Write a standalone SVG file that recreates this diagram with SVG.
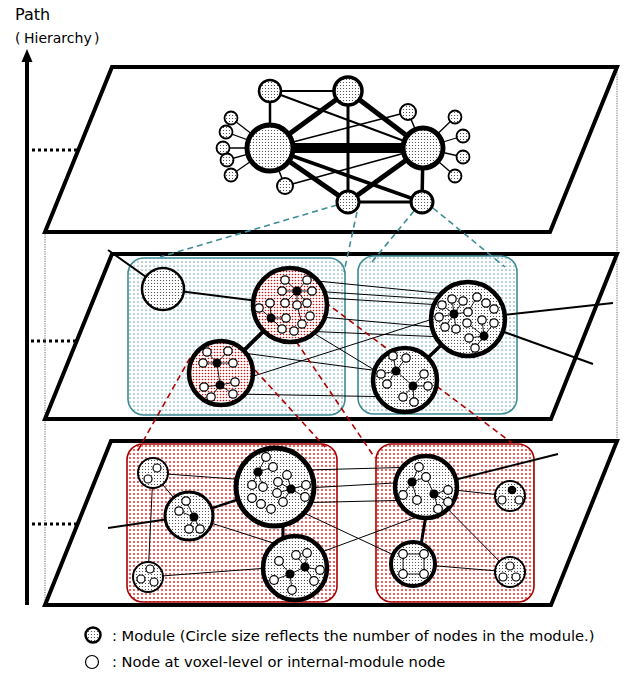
<svg xmlns="http://www.w3.org/2000/svg" width="633" height="680" viewBox="0 0 633 680">
  <defs>
    <!-- dotted fills -->
    <pattern id="gd" width="3" height="3" patternUnits="userSpaceOnUse">
      <rect width="3" height="3" fill="#fff"/>
      <circle cx="1.5" cy="1.5" r="0.6" fill="#3a3a3a"/>
    </pattern>
    <pattern id="rd" width="3" height="3" patternUnits="userSpaceOnUse">
      <rect width="3" height="3" fill="#fff"/>
      <circle cx="1.5" cy="1.5" r="0.8" fill="#d01010"/>
    </pattern>
    <pattern id="rbox" width="4" height="4" patternUnits="userSpaceOnUse">
      <rect width="4" height="4" fill="#fff"/>
      <circle cx="2" cy="2" r="0.9" fill="#e01818"/>
    </pattern>
    <pattern id="tbox" width="4" height="4" patternUnits="userSpaceOnUse">
      <rect width="4" height="4" fill="#fff"/>
      <circle cx="2" cy="2" r="0.85" fill="#78adb5"/>
    </pattern>
    <style>
      .plane{fill:#fff;stroke:#000;stroke-width:4;stroke-linejoin:miter}
      .guide{fill:none;stroke:#666;stroke-width:1;stroke-dasharray:1.2 1.2}
      .tick{fill:none;stroke:#000;stroke-width:3;stroke-dasharray:3 3}
      .tbx{fill:url(#tbox);stroke:#3e8c96;stroke-width:1.6}
      .rbx{fill:url(#rbox);stroke:#a80000;stroke-width:1.6}
      .mod{fill:url(#gd);stroke:#000}
      .rmod{fill:url(#rd);stroke:#000}
      .n{fill:#fff;stroke:#000;stroke-width:1.2}
      .h{fill:#000}
      .ie{fill:none;stroke:#000;stroke-width:0.9}
      .e{fill:none;stroke:#000;stroke-linecap:butt}
      .tdash{fill:none;stroke:#3e8c96;stroke-width:1.6;stroke-dasharray:6 4}
      .rdash{fill:none;stroke:#b00000;stroke-width:1.6;stroke-dasharray:6 4}
      .lbl{font-family:"DejaVu Sans","Noto Sans CJK JP",sans-serif;fill:#000}
    </style>
  </defs>

  <!-- vertical hierarchy axis -->
  <g id="axis">
    <line x1="27" y1="58" x2="27" y2="605" stroke="#000" stroke-width="4"/>
    <polygon points="27,49 21.5,62 32.5,62" fill="#000"/>
    <text class="lbl" x="15" y="20" font-size="16">Path</text>
    <text class="lbl" y="43" font-size="14"><tspan x="15">(</tspan><tspan x="24">Hierarchy</tspan><tspan x="94">)</tspan></text>
    <line class="tick" x1="32" y1="150" x2="77" y2="150"/>
    <line class="tick" x1="31" y1="341" x2="76" y2="341"/>
    <line class="tick" x1="32" y1="524" x2="76" y2="524"/>
  </g>

  <!-- thin guides joining the plane corners -->
  <line class="guide" x1="45" y1="232" x2="45" y2="605"/>
  <line class="guide" x1="617" y1="67" x2="617" y2="441"/>

  <!-- the three layers -->
  <g id="plane-top"><path class="plane" d="M112,67 L617,67 L550,232 L45,232 Z"/></g>
  <g id="plane-mid"><path class="plane" d="M112,254 L617,254 L551,419 L45,419 Z"/></g>
  <g id="plane-bot"><path class="plane" d="M111,441 L617,441 L551,605 L45,605 Z"/></g>

  <!-- community boxes -->
  <g id="box-mid-left"><rect class="tbx" x="128" y="258" width="217" height="157" rx="16"/></g>
  <g id="box-mid-right"><rect class="tbx" x="358" y="256" width="159" height="158" rx="16"/></g>
  <g id="box-bot-left"><rect class="rbx" x="127" y="444" width="210" height="158" rx="16"/></g>
  <g id="box-bot-right"><rect class="rbx" x="376" y="444" width="158" height="158" rx="16"/></g>

  <g id="connectors">
    <!-- top layer -->
    <line class="e" x1="270" y1="148" x2="423" y2="148" stroke-width="10"/>
    <line class="e" x1="348" y1="91" x2="270" y2="148" stroke-width="5"/>
    <line class="e" x1="348" y1="91" x2="423" y2="148" stroke-width="5"/>
    <line class="e" x1="348" y1="91" x2="348" y2="202" stroke-width="3"/>
    <line class="e" x1="270" y1="148" x2="348" y2="202" stroke-width="5"/>
    <line class="e" x1="423" y1="148" x2="348" y2="202" stroke-width="5"/>
    <line class="e" x1="270" y1="148" x2="422" y2="202" stroke-width="3.5"/>
    <line class="e" x1="423" y1="148" x2="422" y2="202" stroke-width="3.5"/>
    <line class="e" x1="348" y1="202" x2="422" y2="202" stroke-width="3"/>
    <line class="e" x1="270" y1="91" x2="348" y2="91" stroke-width="2"/>
    <line class="e" x1="270" y1="91" x2="270" y2="148" stroke-width="2.5"/>
    <line class="e" x1="270" y1="91" x2="423" y2="148" stroke-width="2"/>
    <line class="e" x1="408" y1="112" x2="270" y2="148" stroke-width="1.8"/>
    <line class="e" x1="408" y1="112" x2="423" y2="148" stroke-width="1.5"/>
    <line class="e" x1="285" y1="186" x2="423" y2="148" stroke-width="1.8"/>
    <line class="e" x1="285" y1="186" x2="270" y2="148" stroke-width="1.5"/>
    <g stroke-width="1.3">
      <line class="e" x1="231" y1="118" x2="270" y2="148"/>
      <line class="e" x1="226" y1="132" x2="270" y2="148"/>
      <line class="e" x1="223" y1="148" x2="270" y2="148"/>
      <line class="e" x1="227" y1="160" x2="270" y2="148"/>
      <line class="e" x1="231" y1="175" x2="270" y2="148"/>
      <line class="e" x1="455" y1="117" x2="423" y2="148"/>
      <line class="e" x1="463" y1="136" x2="423" y2="148"/>
      <line class="e" x1="463" y1="157" x2="423" y2="148"/>
      <line class="e" x1="455" y1="176" x2="423" y2="148"/>
    </g>

    <!-- links from top-layer modules down to their sub-networks -->
    <line class="tdash" x1="337" y1="205" x2="160" y2="257"/>
    <line class="tdash" x1="357" y1="212" x2="344" y2="272"/>
    <line class="tdash" x1="414" y1="211" x2="372" y2="262"/>
    <line class="tdash" x1="433" y1="208" x2="505" y2="267"/>

    <!-- middle layer -->
    <line class="e" x1="108" y1="250" x2="163" y2="289" stroke-width="2"/>
    <line class="e" x1="163" y1="289" x2="290" y2="305" stroke-width="2"/>
    <line class="e" x1="290" y1="305" x2="221" y2="373" stroke-width="4"/>
    <line class="e" x1="468" y1="319" x2="405" y2="380" stroke-width="3.5"/>
    <line class="e" x1="468" y1="319" x2="613" y2="303" stroke-width="2"/>
    <line class="e" x1="468" y1="319" x2="593" y2="364" stroke-width="2"/>
    <g stroke-width="1">
      <line class="e" x1="307" y1="280" x2="477" y2="297"/>
      <line class="e" x1="312" y1="291" x2="463" y2="301"/>
      <line class="e" x1="310" y1="297" x2="442" y2="305"/>
      <line class="e" x1="310" y1="316" x2="456" y2="329"/>
      <line class="e" x1="302" y1="331" x2="469" y2="338"/>
      <line class="e" x1="305" y1="328" x2="381" y2="374"/>
      <line class="e" x1="228" y1="351" x2="387" y2="372"/>
      <line class="e" x1="235" y1="382" x2="439" y2="317"/>
      <line class="e" x1="233" y1="394" x2="403" y2="397"/>
    </g>

    <!-- links from middle-layer modules down to their sub-networks -->
    <line class="rdash" x1="190" y1="358" x2="137" y2="452"/>
    <line class="rdash" x1="255" y1="370" x2="325" y2="447"/>
    <line class="rdash" x1="285" y1="325" x2="375" y2="458"/>
    <line class="rdash" x1="325" y1="302" x2="512" y2="443"/>

    <!-- bottom layer -->
    <line class="e" x1="108" y1="528" x2="189" y2="516" stroke-width="2"/>
    <line class="e" x1="189" y1="516" x2="275" y2="487" stroke-width="2.5"/>
    <line class="e" x1="283" y1="520" x2="283" y2="540" stroke-width="3"/>
    <line class="e" x1="426" y1="515" x2="421" y2="545" stroke-width="3"/>
    <line class="e" x1="426" y1="487" x2="558" y2="454" stroke-width="2"/>
    <g stroke-width="1">
      <line class="e" x1="153" y1="473" x2="275" y2="482"/>
      <line class="e" x1="153" y1="473" x2="189" y2="516"/>
      <line class="e" x1="153" y1="473" x2="148" y2="577"/>
      <line class="e" x1="148" y1="577" x2="295" y2="566"/>
      <line class="e" x1="189" y1="516" x2="295" y2="550"/>
      <line class="e" x1="307" y1="470" x2="419" y2="467"/>
      <line class="e" x1="306" y1="488" x2="412" y2="482"/>
      <line class="e" x1="287" y1="503" x2="417" y2="500"/>
      <line class="e" x1="287" y1="505" x2="413" y2="564"/>
      <line class="e" x1="300" y1="560" x2="438" y2="509"/>
      <line class="e" x1="426" y1="487" x2="510" y2="496"/>
      <line class="e" x1="426" y1="487" x2="510" y2="572"/>
      <line class="e" x1="413" y1="564" x2="510" y2="572"/>
    </g>
  </g>

  <!-- top layer modules -->
  <g id="t-left"><circle class="mod" cx="270" cy="148" r="23" stroke-width="5"/></g>
  <g id="t-right"><circle class="mod" cx="423" cy="148" r="20" stroke-width="5"/></g>
  <g id="t-top"><circle class="mod" cx="348" cy="91" r="14" stroke-width="3.5"/></g>
  <g id="t-topleft"><circle class="mod" cx="270" cy="91" r="11" stroke-width="2.5"/></g>
  <g id="t-botc"><circle class="mod" cx="348" cy="202" r="11" stroke-width="3"/></g>
  <g id="t-botr"><circle class="mod" cx="422" cy="202" r="11" stroke-width="3"/></g>
  <g id="t-lb"><circle class="mod" cx="285" cy="186" r="8" stroke-width="2"/></g>
  <g id="t-ur"><circle class="mod" cx="408" cy="112" r="8" stroke-width="2"/></g>
  <g id="t-sat-l1"><circle class="mod" cx="231" cy="118" r="6.5" stroke-width="1.8"/></g>
  <g id="t-sat-l2"><circle class="mod" cx="226" cy="132" r="6.5" stroke-width="1.8"/></g>
  <g id="t-sat-l3"><circle class="mod" cx="223" cy="148" r="6.5" stroke-width="1.8"/></g>
  <g id="t-sat-l4"><circle class="mod" cx="227" cy="160" r="6.5" stroke-width="1.8"/></g>
  <g id="t-sat-l5"><circle class="mod" cx="231" cy="175" r="6.5" stroke-width="1.8"/></g>
  <g id="t-sat-r1"><circle class="mod" cx="455" cy="117" r="6.5" stroke-width="1.8"/></g>
  <g id="t-sat-r2"><circle class="mod" cx="463" cy="136" r="6.5" stroke-width="1.8"/></g>
  <g id="t-sat-r3"><circle class="mod" cx="463" cy="157" r="6.5" stroke-width="1.8"/></g>
  <g id="t-sat-r4"><circle class="mod" cx="455" cy="176" r="6.5" stroke-width="1.8"/></g>

  <!-- middle layer modules -->
  <g id="m-gray-small"><circle class="mod" cx="163" cy="289" r="21" stroke-width="2.5"/></g>

  <g id="m-red-big">
    <circle class="rmod" cx="290" cy="305" r="37" stroke-width="4.5"/>
    <path class="ie" d="M297,291 L285,280 M297,291 L307,280 M297,291 L282,291 M297,291 L312,291 M297,291 L297,305 M297,291 L307,303 M297,291 L285,303 M271,318 L259,308 M271,318 L270,303 M271,318 L286,318 M271,318 L282,329 M297,305 L302,324"/>
    <circle class="n" cx="285" cy="280" r="4.2"/><circle class="n" cx="307" cy="280" r="4.2"/>
    <circle class="n" cx="282" cy="291" r="4.2"/><circle class="n" cx="312" cy="291" r="4.2"/>
    <circle class="n" cx="270" cy="303" r="4.2"/><circle class="n" cx="285" cy="303" r="4.2"/>
    <circle class="n" cx="297" cy="305" r="4.2"/><circle class="n" cx="307" cy="303" r="4.2"/>
    <circle class="n" cx="259" cy="308" r="4.2"/><circle class="n" cx="286" cy="318" r="4.2"/>
    <circle class="n" cx="310" cy="316" r="4.2"/><circle class="n" cx="302" cy="324" r="4.2"/>
    <circle class="n" cx="282" cy="329" r="4.2"/><circle class="n" cx="294" cy="331" r="4.2"/>
    <circle class="h" cx="297" cy="291" r="4.5"/><circle class="h" cx="271" cy="318" r="4.5"/>
  </g>

  <g id="m-red-small">
    <circle class="rmod" cx="221" cy="373" r="32" stroke-width="4.5"/>
    <path class="ie" d="M217,363 L207,352 M217,363 L228,351 M217,363 L203,363 M217,363 L233,363 M217,363 L220,385 M220,385 L204,387 M220,385 L235,382 M220,385 L211,397 M220,385 L233,394"/>
    <circle class="n" cx="207" cy="352" r="4.2"/><circle class="n" cx="228" cy="351" r="4.2"/>
    <circle class="n" cx="203" cy="363" r="4.2"/><circle class="n" cx="233" cy="363" r="4.2"/>
    <circle class="n" cx="204" cy="387" r="4.2"/><circle class="n" cx="235" cy="382" r="4.2"/>
    <circle class="n" cx="211" cy="397" r="4.2"/><circle class="n" cx="233" cy="394" r="4.2"/>
    <circle class="h" cx="217" cy="363" r="4.5"/><circle class="h" cx="220" cy="385" r="4.5"/>
  </g>

  <g id="m-gray-big">
    <circle class="mod" cx="468" cy="319" r="37" stroke-width="4.5"/>
    <path class="ie" d="M454,314 L442,305 M454,314 L452,299 M454,314 L463,301 M454,314 L439,317 M454,314 L468,312 M454,314 L445,327 M454,314 L456,329 M484,336 L482,320 M484,336 L494,323 M484,336 L469,338 M484,336 L475,348 M484,336 L467,323 M468,312 L477,297"/>
    <circle class="n" cx="442" cy="305" r="4.2"/><circle class="n" cx="452" cy="299" r="4.2"/>
    <circle class="n" cx="463" cy="301" r="4.2"/><circle class="n" cx="477" cy="297" r="4.2"/>
    <circle class="n" cx="486" cy="303" r="4.2"/><circle class="n" cx="494" cy="309" r="4.2"/>
    <circle class="n" cx="439" cy="317" r="4.2"/><circle class="n" cx="468" cy="312" r="4.2"/>
    <circle class="n" cx="482" cy="320" r="4.2"/><circle class="n" cx="494" cy="323" r="4.2"/>
    <circle class="n" cx="467" cy="323" r="4.2"/><circle class="n" cx="445" cy="327" r="4.2"/>
    <circle class="n" cx="456" cy="329" r="4.2"/><circle class="n" cx="469" cy="338" r="4.2"/>
    <circle class="n" cx="475" cy="348" r="4.2"/>
    <circle class="h" cx="454" cy="314" r="4.5"/><circle class="h" cx="484" cy="336" r="4.5"/>
  </g>

  <g id="m-gray-mid">
    <circle class="mod" cx="405" cy="380" r="32" stroke-width="4.5"/>
    <path class="ie" d="M396,371 L393,356 M396,371 L406,358 M396,371 L381,374 M396,371 L387,384 M396,371 L413,386 M413,386 L424,374 M413,386 L428,386 M413,386 L403,397 M413,386 L414,402"/>
    <circle class="n" cx="393" cy="356" r="4.2"/><circle class="n" cx="406" cy="358" r="4.2"/>
    <circle class="n" cx="381" cy="374" r="4.2"/><circle class="n" cx="387" cy="384" r="4.2"/>
    <circle class="n" cx="424" cy="374" r="4.2"/><circle class="n" cx="428" cy="386" r="4.2"/>
    <circle class="n" cx="403" cy="397" r="4.2"/><circle class="n" cx="414" cy="402" r="4.2"/>
    <circle class="h" cx="396" cy="371" r="4.5"/><circle class="h" cx="413" cy="386" r="4.5"/>
  </g>

  <!-- bottom layer modules -->
  <g id="b-small-a">
    <circle class="mod" cx="153" cy="473" r="15" stroke-width="2"/>
    <circle class="n" cx="157" cy="468" r="4"/><circle class="n" cx="148" cy="479" r="4"/>
  </g>
  <g id="b-medium-a">
    <circle class="mod" cx="189" cy="516" r="24" stroke-width="3"/>
    <path class="ie" d="M194,517 L186,501 M194,517 L179,511 M194,517 L189,529 M194,517 L200,529"/>
    <circle class="n" cx="186" cy="501" r="4.2"/><circle class="n" cx="179" cy="511" r="4.2"/>
    <circle class="n" cx="189" cy="529" r="4.2"/><circle class="n" cx="200" cy="529" r="4.2"/>
    <circle class="h" cx="194" cy="517" r="4.5"/>
  </g>
  <g id="b-small-b">
    <circle class="mod" cx="148" cy="577" r="15" stroke-width="2"/>
    <circle class="n" cx="150" cy="569" r="4"/><circle class="n" cx="141" cy="579" r="4"/>
    <circle class="n" cx="154" cy="582" r="4"/>
  </g>
  <g id="b-big-a">
    <circle class="mod" cx="275" cy="487" r="39" stroke-width="5"/>
    <path class="ie" d="M258,472 L266,457 M258,472 L273,467 M258,472 L252,485 M258,472 L263,487 M291,489 L287,475 M291,489 L278,482 M291,489 L306,485 M291,489 L305,497 M291,489 L283,502 M291,489 L277,493"/>
    <circle class="n" cx="266" cy="457" r="4.3"/><circle class="n" cx="273" cy="467" r="4.3"/>
    <circle class="n" cx="287" cy="475" r="4.3"/><circle class="n" cx="278" cy="482" r="4.3"/>
    <circle class="n" cx="263" cy="487" r="4.3"/><circle class="n" cx="252" cy="485" r="4.3"/>
    <circle class="n" cx="306" cy="485" r="4.3"/><circle class="n" cx="277" cy="493" r="4.3"/>
    <circle class="n" cx="305" cy="497" r="4.3"/><circle class="n" cx="252" cy="498" r="4.3"/>
    <circle class="n" cx="261" cy="504" r="4.3"/><circle class="n" cx="271" cy="509" r="4.3"/>
    <circle class="n" cx="283" cy="502" r="4.3"/>
    <circle class="h" cx="258" cy="472" r="4.6"/><circle class="h" cx="291" cy="489" r="4.6"/>
  </g>
  <g id="b-medium-b">
    <circle class="mod" cx="295" cy="568" r="32" stroke-width="4.5"/>
    <path class="ie" d="M305,567 L296,555 M305,567 L307,553 M305,567 L320,570 M305,567 L314,581 M305,567 L290,574 M290,574 L279,561 M290,574 L274,580 M290,574 L292,590"/>
    <circle class="n" cx="279" cy="561" r="4.3"/><circle class="n" cx="296" cy="555" r="4.3"/>
    <circle class="n" cx="307" cy="553" r="4.3"/><circle class="n" cx="320" cy="570" r="4.3"/>
    <circle class="n" cx="274" cy="580" r="4.3"/><circle class="n" cx="314" cy="581" r="4.3"/>
    <circle class="n" cx="292" cy="590" r="4.3"/>
    <circle class="h" cx="305" cy="567" r="4.6"/><circle class="h" cx="290" cy="574" r="4.6"/>
  </g>
  <g id="b-big-b">
    <circle class="mod" cx="426" cy="487" r="31" stroke-width="4.5"/>
    <path class="ie" d="M412,482 L419,467 M412,482 L403,495 M412,482 L426,477 M412,482 L417,500 M434,494 L426,477 M434,494 L448,490 M434,494 L448,502 M434,494 L438,509"/>
    <circle class="n" cx="419" cy="467" r="4.3"/><circle class="n" cx="426" cy="477" r="4.3"/>
    <circle class="n" cx="403" cy="495" r="4.3"/><circle class="n" cx="448" cy="490" r="4.3"/>
    <circle class="n" cx="417" cy="500" r="4.3"/><circle class="n" cx="448" cy="502" r="4.3"/>
    <circle class="n" cx="438" cy="509" r="4.3"/>
    <circle class="h" cx="412" cy="482" r="4.6"/><circle class="h" cx="434" cy="494" r="4.6"/>
  </g>
  <g id="b-square">
    <circle class="mod" cx="413" cy="564" r="22" stroke-width="4"/>
    <path class="ie" d="M403,554 L424,554 L424,574 L403,574 Z"/>
    <circle class="n" cx="403" cy="554" r="4.3"/><circle class="n" cx="424" cy="554" r="4.3"/>
    <circle class="n" cx="403" cy="574" r="4.3"/><circle class="n" cx="424" cy="574" r="4.3"/>
  </g>
  <g id="b-small-c">
    <circle class="mod" cx="510" cy="496" r="15" stroke-width="2"/>
    <circle class="n" cx="502" cy="500" r="4"/><circle class="n" cx="519" cy="500" r="4"/>
    <circle class="h" cx="512" cy="490" r="4.3"/>
  </g>
  <g id="b-small-d">
    <circle class="mod" cx="510" cy="572" r="15" stroke-width="2"/>
    <circle class="n" cx="510" cy="566" r="4"/><circle class="n" cx="503" cy="577" r="4"/>
    <circle class="n" cx="516" cy="577" r="4"/>
  </g>

  <!-- legend -->
  <g id="legend">
    <circle class="mod" cx="93" cy="635" r="7.5" stroke-width="2.5"/>
    <text class="lbl" x="112" y="641" font-size="14.7">: Module (Circle size reflects the number of nodes in the module.)</text>
    <circle class="n" cx="92" cy="662" r="6.5" stroke-width="1.5"/>
    <text class="lbl" x="112" y="667" font-size="14.7">: Node at voxel-level or internal-module node</text>
  </g>
</svg>
